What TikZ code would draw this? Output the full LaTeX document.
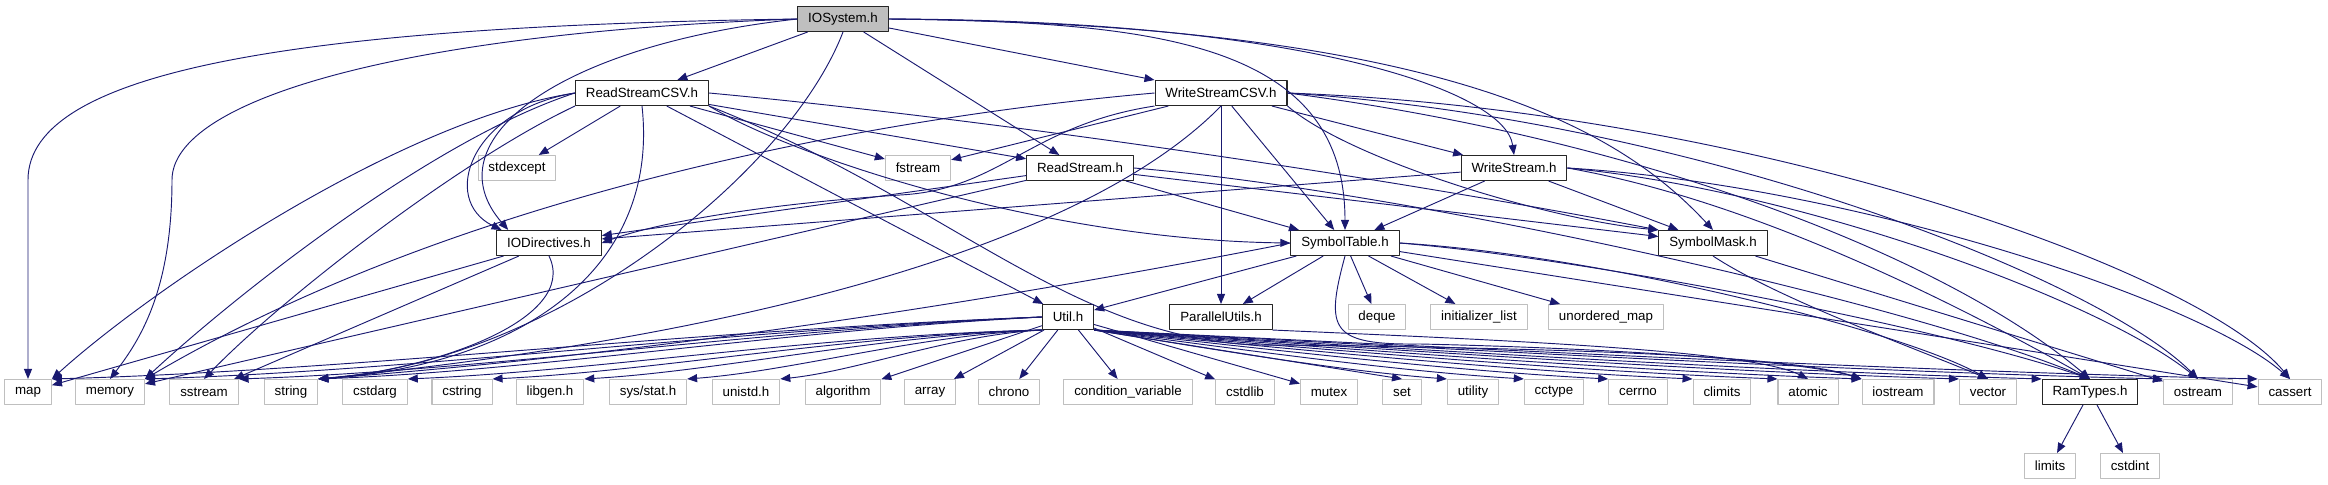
\documentclass[tikz,border=0pt]{standalone}
\usepackage{fontspec}
\setmainfont{Liberation Sans}
\usepackage{tikz}
\usetikzlibrary{arrows.meta}
\definecolor{dxedge}{RGB}{25,25,112}
\definecolor{dxsys}{RGB}{191,191,191}
\definecolor{dxroot}{RGB}{191,191,191}
\tikzset{
  dxbox/.style={
    line width=0.8pt, align=center, inner xsep=7.8pt, inner ysep=0pt,
    minimum height=18.75pt, font=\fontsize{10}{12}\selectfont
  },
  hdr/.style={dxbox, draw=black!85, fill=white},
  root/.style={dxbox, draw=black!85, fill=dxroot},
  sys/.style={dxbox, draw=dxsys, fill=white},
  dep/.style={-{Triangle[length=7.5pt,width=6pt]}, draw=dxedge, line width=0.7pt},
  every picture/.append style={line join=round}
}
\begin{document}
\begin{tikzpicture}[x=0.75pt, y=-0.75pt]
  \useasboundingbox (0,0) rectangle (2328,485);
  % PROJECT HEADERS
  \node[root] (io) at (843,19) {IOSystem.h};
  \node[hdr] (rcsv) at (642,93) {ReadStreamCSV.h};
  \node[hdr] (wcsv) at (1221,93) {WriteStreamCSV.h};
  \node[hdr] (rs) at (1080,168) {ReadStream.h};
  \node[hdr] (ws) at (1514,168) {WriteStream.h};
  \node[hdr] (iodir) at (549,243) {IODirectives.h};
  \node[hdr] (symtab) at (1345,243) {SymbolTable.h};
  \node[hdr] (symmask) at (1713,243) {SymbolMask.h};
  \node[hdr] (util) at (1068,317) {Util.h};
  \node[hdr] (par) at (1221,317) {ParallelUtils.h};
  \node[hdr] (ramt) at (2090,392) {RamTypes.h};
  % SYSTEM HEADERS
  \node[sys] (stdexc) at (517,168) {stdexcept};
  \node[sys] (fstr) at (918,168) {fstream};
  \node[sys] (deque) at (1377,317) {deque};
  \node[sys] (initl) at (1479,317) {initializer\_list};
  \node[sys] (umap) at (1606,317) {unordered\_map};
  \node[sys] (map) at (28,392) {map};
  \node[sys] (memory) at (110,392) {memory};
  \node[sys] (sstr) at (204,392) {sstream};
  \node[sys] (string) at (291,392) {string};
  \node[sys] (cstdarg) at (375,392) {cstdarg};
  \node[sys] (cstring) at (462,392) {cstring};
  \node[sys] (libgen) at (550,392) {libgen.h};
  \node[sys] (sysstat) at (648,392) {sys/stat.h};
  \node[sys] (unistd) at (746,392) {unistd.h};
  \node[sys] (algo) at (843,392) {algorithm};
  \node[sys] (array) at (930,392) {array};
  \node[sys] (chrono) at (1009,392) {chrono};
  \node[sys] (condvar) at (1128,392) {condition\_variable};
  \node[sys] (cstdlib) at (1245,392) {cstdlib};
  \node[sys] (mutex) at (1329,392) {mutex};
  \node[sys] (set) at (1402,392) {set};
  \node[sys] (utility) at (1473,392) {utility};
  \node[sys] (cctype) at (1554,392) {cctype};
  \node[sys] (cerrno) at (1638,392) {cerrno};
  \node[sys] (climits) at (1722,392) {climits};
  \node[sys] (atomic) at (1808,392) {atomic};
  \node[sys] (iostr) at (1898,392) {iostream};
  \node[sys] (vector) at (1988,392) {vector};
  \node[sys] (ostr) at (2198,392) {ostream};
  \node[sys] (cassert) at (2290,392) {cassert};
  \node[sys] (limits) at (2050,466) {limits};
  \node[sys] (cstdint) at (2130,466) {cstdint};
  % IOSYSTEM
  \draw[dep] (io.west) .. controls (300,26) and (28,70) .. (28,180) -- (map);
  \draw[dep] (io.west) .. controls (400,33) and (172,100) .. (172,180)
    .. controls (172,290) and (140,340) .. (memory.north);
  \draw[dep] (io.west) .. controls (560,45) and (430,140) .. ([xshift=9pt]iodir.north west);
  \draw[dep] (io) -- (rcsv);
  \draw[dep] (io.south) .. controls (790,170) and (560,360) .. (string.north east);
  \draw[dep] (io) -- (rs);
  \draw[dep] (io) -- (wcsv);
  \draw[dep] (io.east) .. controls (1150,22) and (1345,40) .. (symtab.north);
  \draw[dep] (io.east) .. controls (1300,20) and (1505,90) .. (ws.north);
  \draw[dep] (io.east) .. controls (1450,25) and (1620,130) .. (symmask.north);
  % READSTREAMCSV
  \draw[dep] (rcsv.west) .. controls (400,120) and (150,290) .. (map.north east);
  \draw[dep] (rcsv.west) .. controls (430,140) and (230,300) .. (memory.north east);
  \draw[dep] (rcsv.south west) .. controls (460,160) and (280,300) .. (sstr.north);
  \draw[dep] (rcsv.west) .. controls (470,110) and (440,200) .. ([xshift=4pt]iodir.north west);
  \draw[dep] (rcsv) -- (stdexc);
  \draw[dep] (rcsv.south) .. controls (660,270) and (520,365) .. (string.north east);
  \draw[dep] (rcsv) -- (fstr);
  \draw[dep] (rcsv) -- (rs);
  \draw[dep] (rcsv.east) .. controls (1000,120) and (1400,180) .. (symmask.north west);
  \draw[dep] (rcsv.south east) .. controls (800,160) and (1050,240) .. (symtab.west);
  \draw[dep] (rcsv) -- (util);
  \draw[dep] (rcsv.south east) .. controls (950,200) and (1080,350) .. (1280,345)
    .. controls (1550,348) and (1790,355) .. (iostr.north west);
  % WRITESTREAMCSV
  \draw[dep] (wcsv.west) .. controls (850,120) and (450,200) .. (memory.north east);
  \draw[dep] (wcsv) -- (fstr);
  \draw[dep] (wcsv.south west) .. controls (1030,125) and (1000,190) .. (900,195)
    .. controls (750,205) and (650,225) .. (iodir.east);
  \draw[dep] (wcsv.south) .. controls (1100,230) and (800,330) .. (string.north east);
  \draw[dep] (wcsv) -- (par);
  \draw[dep] (wcsv) -- (symtab);
  \draw[dep] (wcsv) -- (ws);
  \draw[dep] (wcsv.south east) .. controls (1350,160) and (1550,220) .. (symmask.north west);
  \draw[dep] (wcsv.east) .. controls (1650,140) and (1950,260) .. (ramt.north);
  \draw[dep] (wcsv.east) .. controls (1700,120) and (2100,280) .. (ostr.north);
  \draw[dep] (wcsv.east) .. controls (1750,110) and (2200,270) .. (cassert.north);
  % READSTREAM
  \draw[dep] (rs) -- (iodir);
  \draw[dep] (rs) -- (memory);
  \draw[dep] (rs) -- (symtab);
  \draw[dep] (rs) -- (symmask);
  \draw[dep] (rs.east) .. controls (1400,190) and (1900,300) .. (ramt.north);
  % WRITESTREAM
  \draw[dep] (ws) -- (iodir);
  \draw[dep] (ws) -- (symtab);
  \draw[dep] (ws) -- (symmask);
  \draw[dep] (ws.east) .. controls (1750,200) and (1950,300) .. (ramt.north);
  \draw[dep] (ws.east) .. controls (1800,190) and (2100,300) .. (ostr.north);
  \draw[dep] (ws.east) .. controls (1850,185) and (2200,300) .. (cassert.north);
  % IODIRECTIVES
  \draw[dep] (iodir) -- (map);
  \draw[dep] (iodir) -- (sstr);
  \draw[dep] (iodir.south) .. controls (580,320) and (430,370) .. (string.north east);
  % SYMBOLTABLE
  \draw[dep] (symtab) -- (util);
  \draw[dep] (symtab.west) .. controls (1050,290) and (700,350) .. (string.north east);
  \draw[dep] (symtab) -- (par);
  \draw[dep] (symtab) -- (deque);
  \draw[dep] (symtab) -- (initl);
  \draw[dep] (symtab) -- (umap);
  \draw[dep] (symtab.south) .. controls (1325,330) and (1330,345) .. (1420,344)
    .. controls (1600,348) and (1800,360) .. (iostr.north west);
  \draw[dep] (symtab.east) .. controls (1600,255) and (1900,330) .. (vector.north);
  \draw[dep] (symtab.east) .. controls (1600,260) and (1950,330) .. (ramt.north);
  \draw[dep] (symtab) -- (cassert);
  % SYMBOLMASK
  \draw[dep] (symmask.south) .. controls (1780,300) and (1920,350) .. (vector.north);
  \draw[dep] (symmask) -- (ostr);
  % PARALLELUTILS
  \draw[dep] (par.south east) .. controls (1500,340) and (1750,350) .. (atomic.north);
  % UTIL
  \draw[dep] (util.west) .. controls (695,330) and (348,371) .. (map.north east);
  \draw[dep] (util.west) .. controls (727,330) and (414,371) .. (memory.north east);
  \draw[dep] (util.west) .. controls (760,330) and (480,371) .. (sstr.north east);
  \draw[dep] (util.west) .. controls (788,330) and (535,371) .. (string.north east);
  \draw[dep] (util.south west) .. controls (819,335) and (597,371) .. (cstdarg.north east);
  \draw[dep] (util.south west) .. controls (849,335) and (657,371) .. (cstring.north east);
  \draw[dep] (util.south west) .. controls (881,335) and (721,371) .. (libgen.north east);
  \draw[dep] (util.south west) .. controls (917,335) and (794,371) .. (sysstat.north east);
  \draw[dep] (util.south west) .. controls (950,335) and (858,371) .. (unistd.north east);
  \draw[dep] (util) -- (algo);
  \draw[dep] (util) -- (array);
  \draw[dep] (util) -- (chrono);
  \draw[dep] (util) -- (condvar);
  \draw[dep] (util) -- (cstdlib);
  \draw[dep] (util) -- (mutex);
  \draw[dep] (util.south east) -- (set.north);
  \draw[dep] (util.south east) .. controls (1218,350) and (1341,371) .. (utility.north west);
  \draw[dep] (util.south east) .. controls (1245,350) and (1395,371) .. (cctype.north west);
  \draw[dep] (util.south east) .. controls (1274,350) and (1454,371) .. (cerrno.north west);
  \draw[dep] (util.south east) .. controls (1303,350) and (1513,371) .. (climits.north west);
  \draw[dep] (util.south east) .. controls (1333,350) and (1572,371) .. (atomic.north west);
  \draw[dep] (util.south east) .. controls (1363,350) and (1632,371) .. (iostr.north west);
  \draw[dep] (util.south east) .. controls (1396,350) and (1699,371) .. (vector.north west);
  \draw[dep] (util.south east) .. controls (1426,350) and (1758,371) .. (ramt.north west);
  \draw[dep] (util.south east) .. controls (1468,350) and (1843,371) .. (ostr.north west);
  \draw[dep] (util.south east) .. controls (1501,350) and (1909,371) .. (cassert.north west);
  % RAMTYPES
  \draw[dep] (ramt) -- (limits);
  \draw[dep] (ramt) -- (cstdint);
\end{tikzpicture}
\end{document}
